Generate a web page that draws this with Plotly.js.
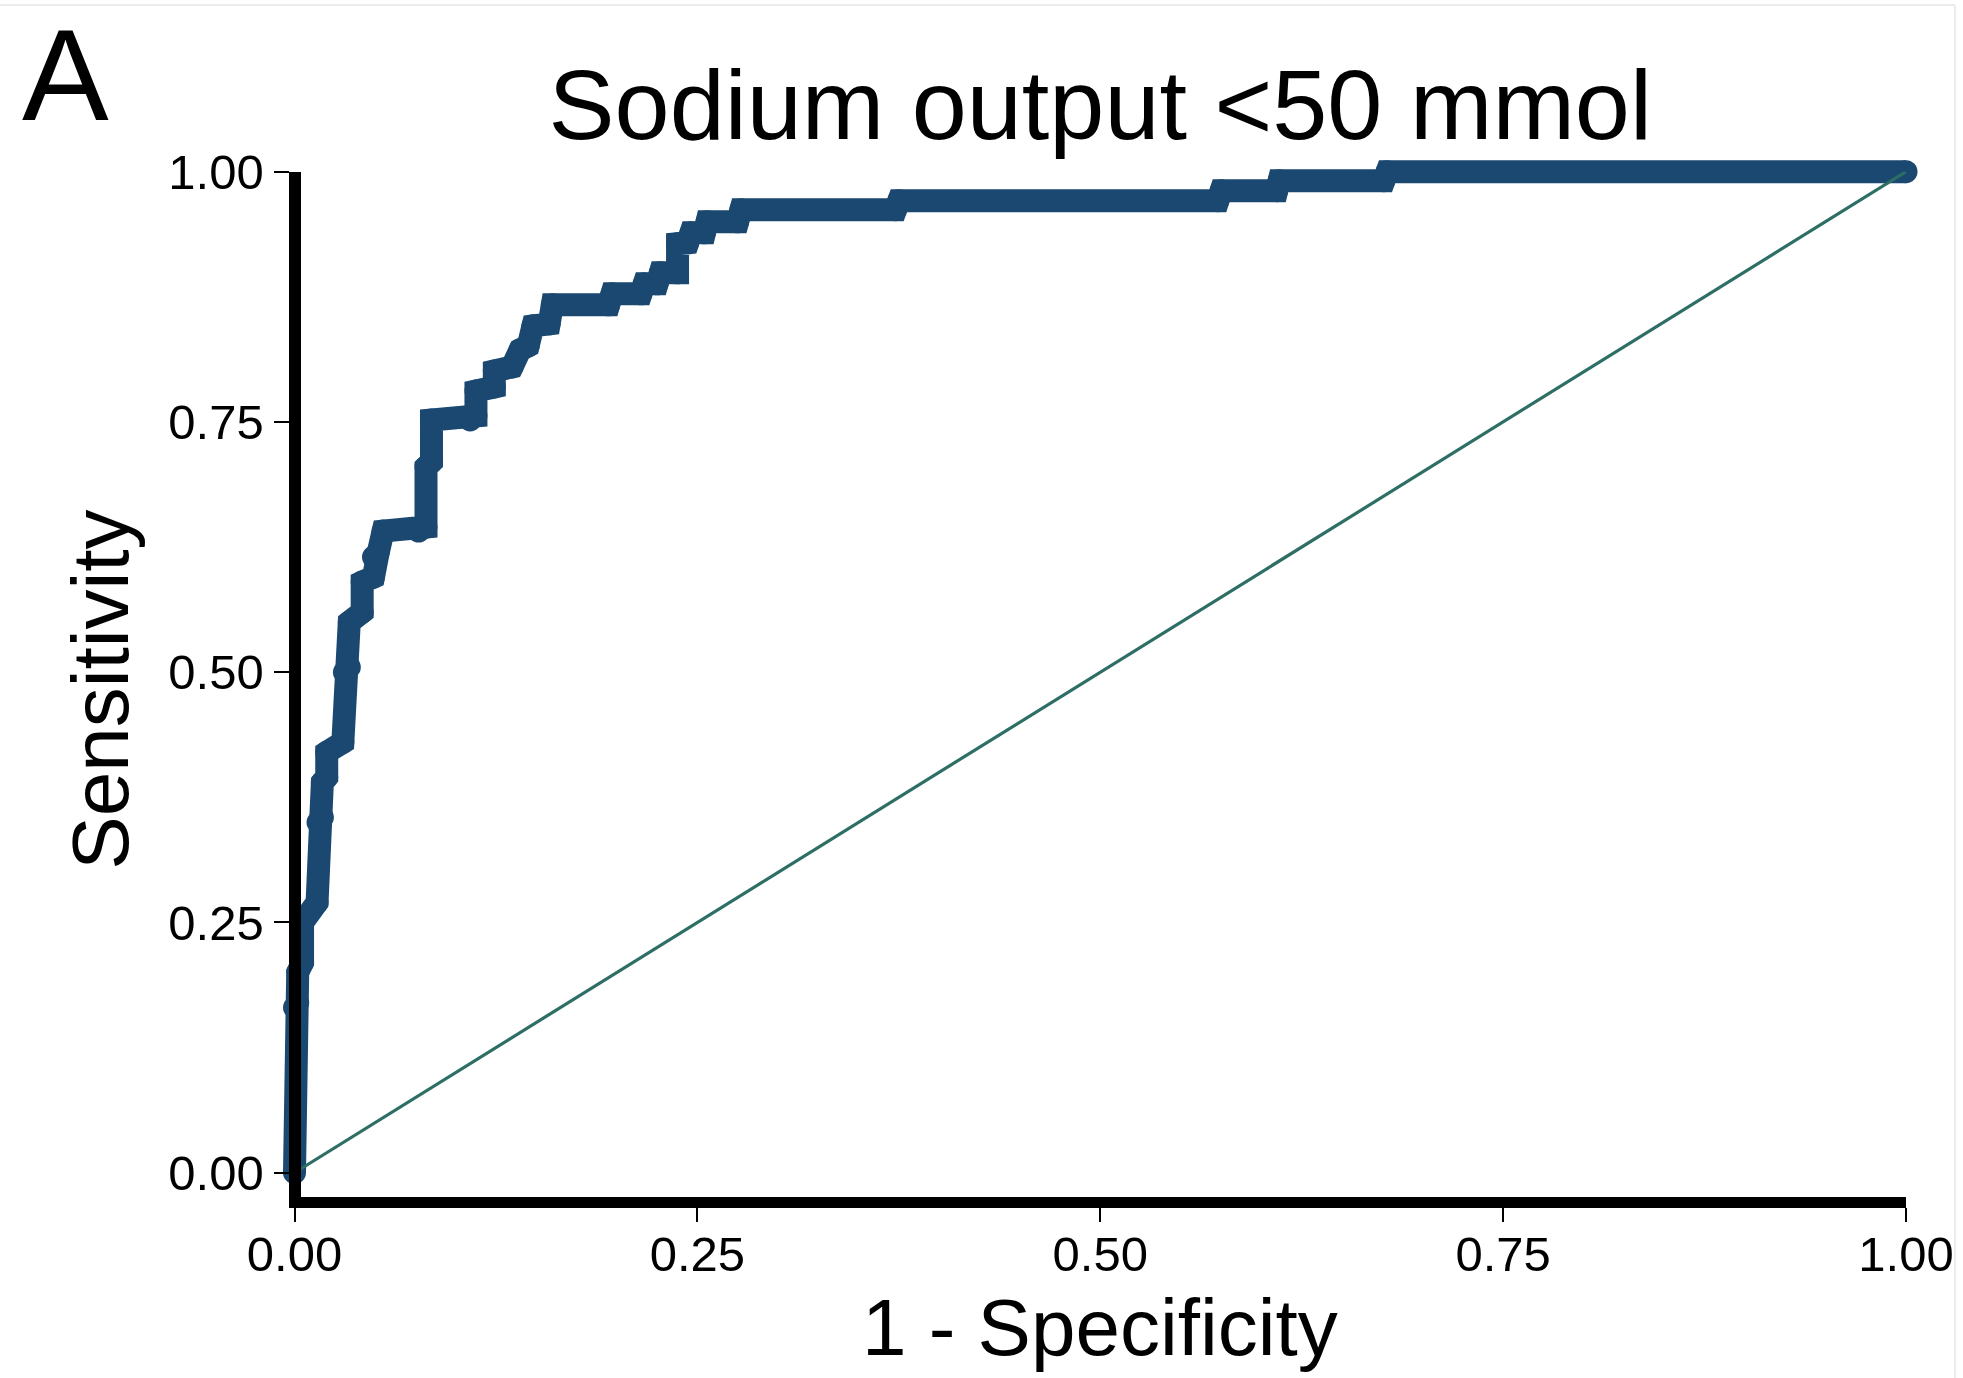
<!DOCTYPE html>
<html>
<head>
<meta charset="utf-8">
<script src="https://cdn.plot.ly/plotly-3.0.1.min.js"></script>
<style>html,body{margin:0;padding:0;background:#fff;}#chart{width:1963px;height:1378px;}</style>
</head>
<body>
<div id="chart"></div>
<script>
// ---- data ----
const fpr = [0, 0, 0.002, 0.002, 0.005, 0.005, 0.014, 0.0146, 0.0173, 0.0173, 0.020, 0.020, 0.030, 0.031, 0.034, 0.034,
  0.042, 0.042, 0.049, 0.049, 0.052, 0.055, 0.077, 0.0816, 0.0816, 0.085, 0.085, 0.109, 0.1126, 0.1126, 0.124, 0.124,
  0.135, 0.140, 0.145, 0.148, 0.158, 0.160, 0.195, 0.197, 0.215, 0.217, 0.225, 0.227, 0.2377, 0.2377, 0.244, 0.246,
  0.2544, 0.256, 0.275, 0.277, 0.373, 0.375, 0.573, 0.575, 0.6095, 0.611, 0.676, 0.678, 1.0];
const tpr = [0, 0.165, 0.17, 0.20, 0.21, 0.25, 0.27, 0.35, 0.355, 0.39, 0.395, 0.42, 0.43, 0.50, 0.505, 0.55,
  0.56, 0.59, 0.595, 0.615, 0.62, 0.641, 0.641, 0.645, 0.705, 0.71, 0.752, 0.752, 0.756, 0.781, 0.785, 0.801,
  0.805, 0.822, 0.826, 0.846, 0.848, 0.867, 0.867, 0.878, 0.878, 0.888, 0.888, 0.899, 0.899, 0.928, 0.929, 0.939,
  0.939, 0.950, 0.950, 0.962, 0.962, 0.971, 0.971, 0.981, 0.981, 0.991, 0.991, 1.0, 1.0];
const refX = [0, 1];
const refY = [0, 1];
const tickVals = [0, 0.25, 0.5, 0.75, 1];
const tickText = ['0.00', '0.25', '0.50', '0.75', '1.00'];
const titleText = 'Sodium output <50 mmol';
const xTitle = '1 - Specificity';
const yTitle = 'Sensitivity';
const panelLabel = 'A';

// ---- geometry (pixels) ----
const W = 1963, H = 1378;
const PX0 = 294.5, PX1 = 1906;     // pixel of x=0 and x=1
const PY0 = 1172.7, PY1 = 171.7;   // pixel of y=0 and y=1
const L = 262, R = 1928, T = 140, B = 1222; // plotting area (data subplot)
const XLINE_Y = 1202;              // centre of x axis line
const YLINE_BOTTOM = 1207.5;       // bottom of y axis line
const sx = PX1 - PX0, sy = PY0 - PY1;
const gw = R - L, gh = B - T;
const px2paperX = p => (p - L) / gw;
const py2paperY = p => (B - p) / gh;

const FONT = 'Liberation Sans, Arial, sans-serif';

const traces = [
  {
    x: fpr, y: tpr, xaxis: 'x', yaxis: 'y', type: 'scatter', mode: 'lines+markers',
    line: {color: '#1b4870', width: 23},
    marker: {color: '#1b4870', size: 23, line: {width: 0}},
    cliponaxis: false, hoverinfo: 'skip', showlegend: false
  },
  {
    x: refX, y: refY, xaxis: 'x2', yaxis: 'y2', type: 'scatter', mode: 'lines',
    line: {color: '#2d6e65', width: 3.2},
    hoverinfo: 'skip', showlegend: false
  }
];

const layout = {
  width: W, height: H,
  margin: {l: L, r: W - R, t: T, b: H - B, pad: 0},
  paper_bgcolor: '#ffffff', plot_bgcolor: 'rgba(0,0,0,0)',
  showlegend: false,
  font: {family: FONT, color: '#000'},
  title: {
    text: titleText, font: {family: FONT, size: 99, color: '#000'},
    xref: 'paper', x: px2paperX((PX0 + PX1) / 2), xanchor: 'center',
    yref: 'container', y: 1 - 139 / H, yanchor: 'bottom'
  },
  xaxis: {
    domain: [0, 1], range: [(L - PX0) / sx, (R - PX0) / sx], visible: false, fixedrange: true
  },
  yaxis: {
    domain: [0, 1], range: [(PY0 - B) / sy, (PY0 - T) / sy], visible: false, fixedrange: true
  },
  xaxis2: {
    domain: [px2paperX(PX0), px2paperX(PX1)], range: [0, 1],
    anchor: 'free', position: py2paperY(XLINE_Y - 0.5),
    showline: true, linewidth: 11, linecolor: '#000',
    ticks: 'outside', ticklen: 14, tickwidth: 2, tickcolor: '#000',
    tickmode: 'array', tickvals: tickVals, ticktext: tickText,
    tickfont: {family: FONT, size: 49, color: '#000'},
    ticklabelstandoff: -9,
    showgrid: false, zeroline: false, fixedrange: true
  },
  yaxis2: {
    domain: [py2paperY(YLINE_BOTTOM), py2paperY(PY1)], range: [(PY0 - YLINE_BOTTOM) / sy, 1],
    anchor: 'free', position: px2paperX(PX0),
    showline: true, linewidth: 12, linecolor: '#000',
    ticks: 'outside', ticklen: 15, tickwidth: 2, tickcolor: '#000',
    tickmode: 'array', tickvals: tickVals, ticktext: tickText,
    tickfont: {family: FONT, size: 49, color: '#000'},
    showgrid: false, zeroline: false, fixedrange: true,
    title: {text: yTitle, font: {family: FONT, size: 80, color: '#000'}, standoff: 12}
  },
  annotations: [
    {
      text: panelLabel, showarrow: false, xref: 'paper', yref: 'paper',
      x: px2paperX(21), xanchor: 'left', y: py2paperY(1), yanchor: 'top',
      borderpad: 0, font: {family: FONT, size: 130, color: '#000'}
    },
    {
      text: xTitle, showarrow: false, xref: 'paper', yref: 'paper',
      x: px2paperX((PX0 + PX1) / 2), xanchor: 'center', y: py2paperY(1354 - 0.905 * 80), yanchor: 'top',
      borderpad: 0, font: {family: FONT, size: 80, color: '#000'}
    }
  ],
  shapes: [
    {type: 'line', xref: 'paper', yref: 'paper', x0: px2paperX(0), x1: px2paperX(1955), y0: py2paperY(5), y1: py2paperY(5),
     line: {color: '#ececec', width: 2}},
    {type: 'line', xref: 'paper', yref: 'paper', x0: px2paperX(1955), x1: px2paperX(1955), y0: py2paperY(5), y1: py2paperY(H),
     line: {color: '#ececec', width: 2}}
  ]
};

Plotly.newPlot('chart', traces, layout, {displayModeBar: false, staticPlot: true});
</script>
</body>
</html>
